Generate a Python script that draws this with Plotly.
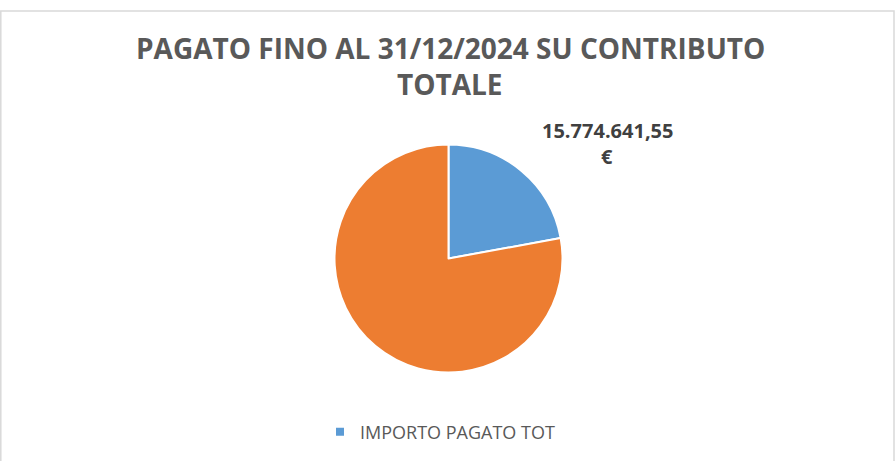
import plotly.graph_objects as go

title_lines = ["PAGATO FINO AL 31/12/2024 SU CONTRIBUTO", "TOTALE"]
labels = ["IMPORTO PAGATO TOT", "CONTRIBUTO RESIDUO"]
values = [15774641.55, 55500000.00]
colors = ["#5B9BD5", "#ED7D31"]


def fmt_it(v):
    s = f"{v:,.2f}"
    return s.replace(",", "X").replace(".", ",").replace("X", ".")


W, H = 896, 461


def py(px):
    return (H - px) / H


def pxx(px):
    return px / W


fig = go.Figure()

cx, cy, r = 448.5, 258.5, 114
fig.add_trace(go.Pie(
    labels=labels,
    values=values,
    sort=False,
    direction="clockwise",
    rotation=0,
    textinfo="none",
    hoverinfo="label+value",
    marker=dict(colors=colors, line=dict(color="white", width=2)),
    domain=dict(x=[pxx(cx - r), pxx(cx + r)], y=[py(cy + r), py(cy - r)]),
    showlegend=False,
))

# legend entry only for the first category
fig.add_trace(go.Scatter(
    x=[None], y=[None], mode="markers", name=labels[0],
    marker=dict(symbol="square", size=8, color=colors[0]),
    showlegend=True,
))

annotations = []
# title (two lines)
title_y = [48, 84]
for t, yy in zip(title_lines, title_y):
    annotations.append(dict(
        text=f"<b>{t}</b>", x=pxx(450), y=py(yy), xref="paper", yref="paper",
        xanchor="center", yanchor="middle", showarrow=False,
        font=dict(family="Open Sans", size=28, color="#595959"),
    ))

# data label of first slice
label_lines = [fmt_it(values[0]), "€"]
for t, yy in zip(label_lines, [130, 157]):
    annotations.append(dict(
        text=f"<b>{t}</b>", x=pxx(607), y=py(yy), xref="paper", yref="paper",
        xanchor="center", yanchor="middle", showarrow=False,
        font=dict(family="Open Sans", size=20, color="#404040"),
    ))

fig.update_layout(
    width=W, height=H,
    margin=dict(l=0, r=0, t=0, b=0),
    paper_bgcolor="white", plot_bgcolor="white",
    xaxis=dict(visible=False), yaxis=dict(visible=False),
    annotations=annotations,
    legend=dict(
        orientation="h", x=pxx(320), y=py(432), xanchor="left", yanchor="middle",
        font=dict(family="Open Sans", size=18, color="#595959"),
        bgcolor="rgba(0,0,0,0)", itemwidth=30,
    ),
    shapes=[dict(
        type="rect", xref="paper", yref="paper",
        x0=pxx(0.8), x1=pxx(894), y0=-0.05, y1=py(11),
        line=dict(color="#D9D9D9", width=1.5), fillcolor="rgba(0,0,0,0)",
    )],
)

fig.write_html(
    "out.html",
    config={"displayModeBar": False},
    post_script="document.body.style.margin='0';document.body.style.overflow='hidden';",
)
